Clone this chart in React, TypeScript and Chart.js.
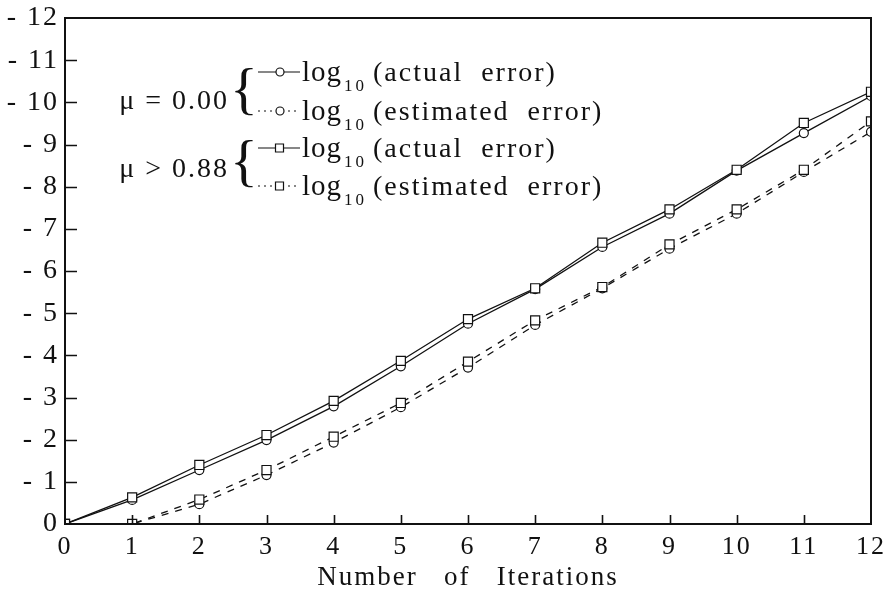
import React, { useEffect, useRef } from "react";
import { Chart, registerables } from "chart.js";

Chart.register(...registerables);

// ---- data ----
const iterations = [0, 1, 2, 3, 4, 5, 6, 7, 8, 9, 10, 11, 12];
const actualMu000 = [0, -0.57, -1.28, -1.99, -2.79, -3.74, -4.75, -5.57, -6.57, -7.36, -8.38, -9.27, -10.15];
const estimatedMu000 = [0, 0, -0.47, -1.16, -1.93, -2.77, -3.71, -4.72, -5.59, -6.53, -7.36, -8.35, -9.3];
const actualMu088 = [0, -0.63, -1.4, -2.11, -2.92, -3.87, -4.86, -5.59, -6.67, -7.46, -8.4, -9.51, -10.25];
const estimatedMu088 = [0, 0, -0.58, -1.28, -2.07, -2.87, -3.85, -4.83, -5.62, -6.63, -7.46, -8.4, -9.55];
const groupLabels = ["μ = 0.00", "μ > 0.88"];
const rowLabels = ["(actual  error)", "(estimated  error)", "(actual  error)", "(estimated  error)"];
const logWord = "log";
const logBase = "10";
const xTitle = "Number   of   Iterations";

const INK = "#111111";
const SERIF = '"Liberation Serif", "Times New Roman", serif';

const toPts = (vals: number[]) => vals.map((v, i) => ({ x: iterations[i], y: v }));

const framePlugin = {
  id: "frameTicks",
  beforeDraw(chart: any) {
    chart.ctx.letterSpacing = "2px";
  },
  afterDatasetsDraw(chart: any) {
    const { ctx, chartArea: a, scales } = chart;
    ctx.save();
    ctx.setLineDash([]);
    ctx.strokeStyle = INK;
    ctx.lineWidth = 2;
    ctx.strokeRect(a.left, a.top, a.right - a.left, a.bottom - a.top);
    ctx.lineWidth = 1.6;
    ctx.beginPath();
    scales.x.ticks.forEach((t: any) => {
      if (t.value <= scales.x.min || t.value >= scales.x.max) return;
      const px = Math.round(scales.x.getPixelForValue(t.value)) + 0.5;
      ctx.moveTo(px, a.bottom);
      ctx.lineTo(px, a.bottom - 9);
    });
    scales.y.ticks.forEach((t: any) => {
      if (t.value <= scales.y.min || t.value >= scales.y.max) return;
      const py = Math.round(scales.y.getPixelForValue(t.value)) + 0.5;
      ctx.moveTo(a.left, py);
      ctx.lineTo(a.left + 12, py);
    });
    ctx.stroke();
    ctx.restore();
  },
  afterDraw(chart: any) {
    const ctx = chart.ctx;
    const ds = chart.data.datasets;
    ctx.save();
    ctx.fillStyle = INK;
    ctx.strokeStyle = INK;
    const rows = [72, 111, 148, 186];
    const groupY = [102, 170];
    const braceCenter = [93, 165];

    ctx.textBaseline = "middle";
    ctx.letterSpacing = "2px";
    ctx.font = `28px ${SERIF}`;
    ctx.textAlign = "right";
    groupLabels.forEach((g, i) => ctx.fillText(g, 229, groupY[i]));

    ctx.letterSpacing = "0px";
    ctx.textAlign = "center";
    ctx.textBaseline = "alphabetic";
    ctx.font = `58px ${SERIF}`;
    braceCenter.forEach((y) => ctx.fillText("{", 244, y + 15));

    ctx.textBaseline = "middle";
    rows.forEach((y, i) => {
      const d = ds[i];
      ctx.lineWidth = 1.2;
      ctx.setLineDash(d.borderDash && d.borderDash.length ? [2, 4] : []);
      ctx.beginPath();
      ctx.moveTo(258, y);
      ctx.lineTo(300, y);
      ctx.stroke();
      ctx.setLineDash([]);
      ctx.fillStyle = "#ffffff";
      ctx.beginPath();
      if (d.pointStyle === "rect") {
        ctx.rect(275.5, y - 4, 8, 8);
      } else {
        ctx.arc(280, y, 4, 0, Math.PI * 2);
      }
      ctx.fill();
      ctx.stroke();
      ctx.fillStyle = INK;
      ctx.textAlign = "left";
      ctx.letterSpacing = "1px";
      ctx.font = `29px ${SERIF}`;
      ctx.fillText(logWord, 302, y + 1);
      ctx.font = `17px ${SERIF}`;
      ctx.letterSpacing = "3px";
      ctx.fillText(logBase, 344, y + 15);
      ctx.font = `28px ${SERIF}`;
      ctx.letterSpacing = "2px";
      ctx.fillText(rowLabels[i], 373, y + 2);
    });
    ctx.restore();
  },
};

export default function App() {
  const ref = useRef<HTMLCanvasElement | null>(null);

  useEffect(() => {
    if (!ref.current) return;
    const common = {
      borderColor: INK,
      pointBorderColor: INK,
      pointBackgroundColor: "#ffffff",
      pointBorderWidth: 1.2,
      borderWidth: 1.3,
      tension: 0,
      fill: false,
    };
    const chart = new Chart(ref.current, {
      type: "line",
      data: {
        datasets: [
          { ...common, label: "μ = 0.00 log10 (actual error)", data: toPts(actualMu000), pointStyle: "circle", pointRadius: 4.5, order: 1 },
          { ...common, label: "μ = 0.00 log10 (estimated error)", data: toPts(estimatedMu000), pointStyle: "circle", pointRadius: 4.5, borderDash: [7, 7], order: 1 },
          { ...common, label: "μ > 0.88 log10 (actual error)", data: toPts(actualMu088), pointStyle: "rect", pointRadius: 6.4, order: 0 },
          { ...common, label: "μ > 0.88 log10 (estimated error)", data: toPts(estimatedMu088), pointStyle: "rect", pointRadius: 6.4, borderDash: [7, 7], order: 0 },
        ],
      } as any,
      options: {
        responsive: false,
        animation: false,
        layout: { padding: { top: 18, right: 17, left: 0, bottom: 0 } },
        plugins: { legend: { display: false }, tooltip: { enabled: false } },
        scales: {
          x: {
            type: "linear",
            min: 0,
            max: 12,
            grid: { display: false, drawTicks: false },
            border: { display: false },
            ticks: {
              stepSize: 1,
              padding: 8,
              color: INK,
              font: { family: SERIF, size: 26 },
            },
            title: {
              display: true,
              text: xTitle,
              color: INK,
              font: { family: SERIF, size: 27 },
              padding: { top: 0, bottom: 2 },
            },
            afterFit: (s: any) => {
              s.height = 72;
              s.paddingLeft = 0;
              s.paddingRight = 0;
            },
          },
          y: {
            type: "linear",
            min: -12,
            max: 0,
            reverse: true,
            grid: { display: false, drawTicks: false },
            border: { display: false },
            ticks: {
              stepSize: 1,
              padding: 6,
              color: INK,
              font: { family: SERIF, size: 28 },
              callback: (v: any) => (v === 0 ? "0" : "- " + Math.abs(v)),
            },
            afterFit: (s: any) => {
              s.width = 65;
              s.paddingTop = 0;
              s.paddingBottom = 0;
            },
          },
        },
      } as any,
      plugins: [framePlugin],
    });
    return () => chart.destroy();
  }, []);

  return (
    <div style={{ position: "fixed", left: 0, top: 0, width: 888, height: 596, background: "#fff" }}>
      <canvas ref={ref} width={888} height={596} style={{ display: "block" }} />
    </div>
  );
}
